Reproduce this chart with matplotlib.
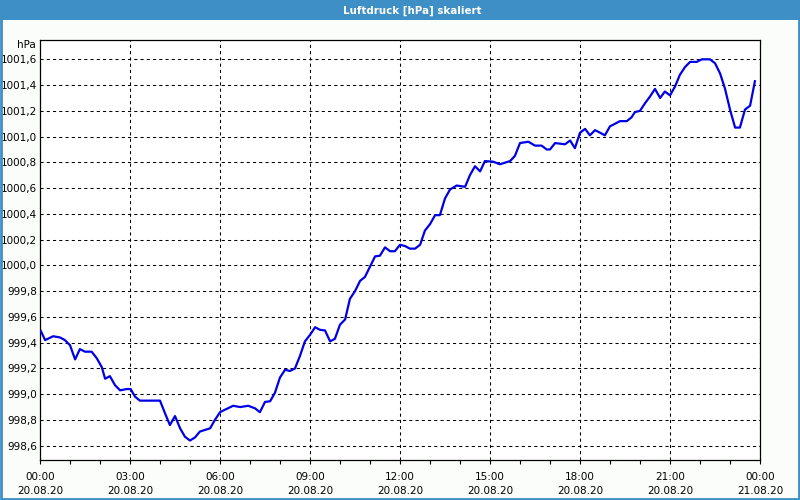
import matplotlib
matplotlib.use("Agg")
import matplotlib.pyplot as plt
from matplotlib.patches import Rectangle
from matplotlib.ticker import FixedLocator, MultipleLocator

# ==========================
# DATA
# ==========================

hours = [
    0.03, 0.17, 0.44, 0.67, 0.83, 1.0, 1.17, 1.33, 1.5, 1.72, 1.89, 2.06,
    2.17, 2.33, 2.5, 2.67, 2.89, 3.02, 3.17, 3.33, 4.0, 4.17, 4.33, 4.5,
    4.67, 4.83, 5.0, 5.17, 5.33, 5.67, 5.83, 6.0, 6.17, 6.44, 6.67, 6.94,
    7.17, 7.33, 7.5, 7.67, 7.83, 8.0, 8.17, 8.33, 8.5, 8.67, 8.83, 9.0,
    9.17, 9.33, 9.5, 9.67, 9.83, 10.0, 10.17, 10.33, 10.5, 10.67, 10.83, 11.0,
    11.17, 11.33, 11.5, 11.67, 11.83, 12.0, 12.17, 12.33, 12.5, 12.67, 12.83, 13.0,
    13.17, 13.33, 13.5, 13.67, 13.89, 14.17, 14.33, 14.5, 14.67, 14.83, 15.11, 15.33,
    15.67, 15.83, 16.0, 16.28, 16.5, 16.72, 16.89, 17.0, 17.17, 17.5, 17.67, 17.83,
    18.0, 18.17, 18.33, 18.5, 18.67, 18.83, 19.0, 19.17, 19.33, 19.56, 19.72, 19.83,
    20.0, 20.17, 20.33, 20.5, 20.67, 20.83, 21.0, 21.17, 21.33, 21.5, 21.67, 21.89,
    22.06, 22.33, 22.5, 22.67, 22.83, 23.0, 23.17, 23.33, 23.5, 23.67, 23.83,
]

pressure = [
    999.49, 999.42, 999.45, 999.44, 999.42, 999.38, 999.27, 999.35, 999.33, 999.33, 999.28, 999.21,
    999.12, 999.14, 999.07, 999.03, 999.04, 999.04, 998.98, 998.95, 998.95, 998.85, 998.76, 998.83,
    998.735, 998.67, 998.64, 998.665, 998.71, 998.735, 998.80, 998.86, 998.88, 998.91, 998.90, 998.91,
    998.89, 998.86, 998.94, 998.945, 999.01, 999.13, 999.19, 999.18, 999.20, 999.30, 999.41, 999.46,
    999.52, 999.50, 999.495, 999.41, 999.43, 999.54, 999.58, 999.74, 999.80, 999.88, 999.91, 999.99,
    1000.07, 1000.075, 1000.14, 1000.11, 1000.11, 1000.16, 1000.15, 1000.13, 1000.13, 1000.16, 1000.27, 1000.32,
    1000.39, 1000.39, 1000.52, 1000.59, 1000.62, 1000.61, 1000.70, 1000.77, 1000.73, 1000.81, 1000.805, 1000.785,
    1000.81, 1000.85, 1000.95, 1000.96, 1000.93, 1000.93, 1000.90, 1000.90, 1000.95, 1000.94, 1000.97, 1000.91,
    1001.03, 1001.06, 1001.01, 1001.05, 1001.03, 1001.01, 1001.08, 1001.10, 1001.12, 1001.12, 1001.15, 1001.19,
    1001.20, 1001.26, 1001.31, 1001.37, 1001.30, 1001.35, 1001.32, 1001.39, 1001.48, 1001.54, 1001.58, 1001.58,
    1001.60, 1001.60, 1001.57, 1001.49, 1001.375, 1001.21, 1001.07, 1001.07, 1001.21, 1001.24, 1001.43,
]

y_ticks = [998.6, 998.8, 999.0, 999.2, 999.4, 999.6, 999.8, 1000.0,
           1000.2, 1000.4, 1000.6, 1000.8, 1001.0, 1001.2, 1001.4, 1001.6]

x_ticks = [0, 3, 6, 9, 12, 15, 18, 21, 24]
x_labels = [
    "00:00\n20.08.20", "03:00\n20.08.20", "06:00\n20.08.20", "09:00\n20.08.20",
    "12:00\n20.08.20", "15:00\n20.08.20", "18:00\n20.08.20", "21:00\n20.08.20",
    "00:00\n21.08.20",
]

title = "Luftdruck [hPa] skaliert"

# ==========================
# PLOT
# ==========================

frame_blue = "#3d8fc5"

fig = plt.figure(figsize=(8, 5), dpi=100)
fig.patch.set_facecolor("#fbfdfb")

# title bar and outer frame
fig.patches.append(Rectangle((0, 0.96), 1, 0.04, transform=fig.transFigure,
                             facecolor=frame_blue, edgecolor="none", zorder=0))
fig.patches.append(Rectangle((0.001, 0.002), 0.998, 0.997, transform=fig.transFigure,
                             facecolor="none", edgecolor=frame_blue, linewidth=2, zorder=5))
fig.text(0.515, 0.979, title, color="white", fontsize=7.4, fontweight="bold",
         ha="center", va="center")

ax = fig.add_axes([0.05, 0.08, 0.90, 0.84])
ax.set_facecolor("white")

ax.plot(hours, pressure, color="#0000e6", linewidth=1.6, zorder=3)

ax.set_xlim(0, 24)
ax.set_ylim(998.489, 1001.75)

ax.xaxis.set_major_locator(FixedLocator(x_ticks))
ax.set_xticklabels(x_labels)
ax.xaxis.set_minor_locator(MultipleLocator(1))
ax.set_yticks(y_ticks)
ax.set_yticklabels([f"{v:.1f}".replace(".", ",") for v in y_ticks])

ax.tick_params(axis="x", which="both", direction="out", length=3, width=0.8,
               labelsize=7.5, pad=6, colors="black")
ax.tick_params(axis="y", length=0, labelsize=7.5, pad=2)
for lab in ax.get_xticklabels():
    lab.set_linespacing(1.5)

ax.grid(True, which="major", color="black", linewidth=0.75,
        linestyle=(0, (3, 3)))

for s in ax.spines.values():
    s.set_color("black")
    s.set_linewidth(0.9)

fig.text(0.045, 0.91, "hPa", fontsize=7.5, ha="right", va="center")

plt.savefig("out.png", dpi=100, facecolor=fig.get_facecolor())
plt.close()
